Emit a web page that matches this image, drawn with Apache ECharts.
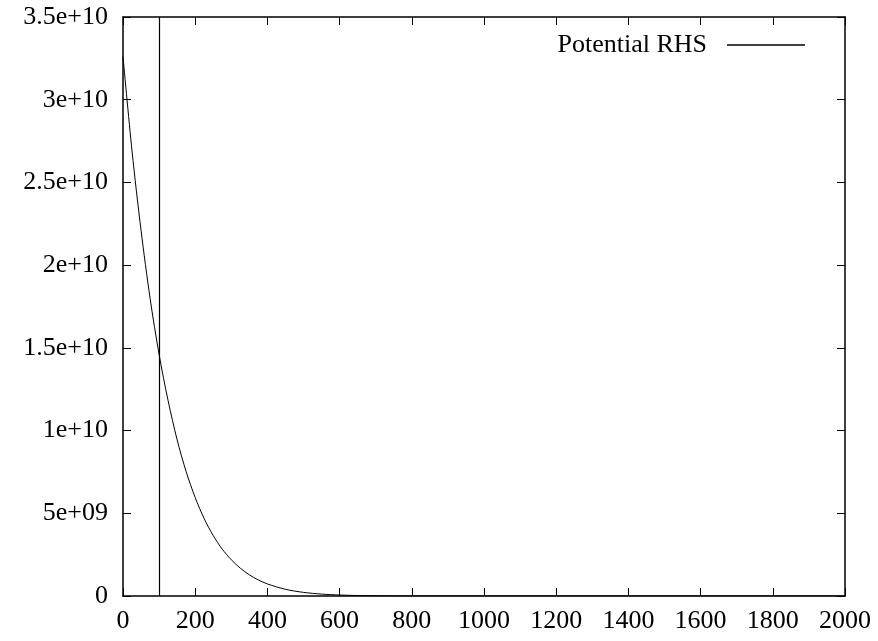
<!DOCTYPE html>
<html>
<head>
<meta charset="utf-8">
<script src="https://cdn.jsdelivr.net/npm/echarts@6/dist/echarts.min.js"></script>
<style>html,body{margin:0;padding:0;background:#fff;}#c{width:878px;height:641px;}</style>
</head>
<body>
<div id="c"></div>
<script>
// Data (y in units of 1e10)
const xValues = [0, 25, 50, 75, 100, 125, 150, 175, 200, 225, 250, 275, 300, 325, 350, 375, 400, 450, 500, 550, 600, 650, 700, 800, 900, 1000, 1200, 1400, 1600, 1800, 2000];
const yValuesE10 = [3.26, 2.69, 2.21, 1.80, 1.46, 1.18, 0.944, 0.751, 0.595, 0.467, 0.365, 0.283, 0.219, 0.168, 0.128, 0.097, 0.073, 0.0405, 0.0219, 0.0116, 0.006, 0.003, 0.0015, 0.0003, 0.0001, 0, 0, 0, 0, 0, 0];
const vlineX = [100];
const yTickLabels = ['0', '5e+09', '1e+10', '1.5e+10', '2e+10', '2.5e+10', '3e+10', '3.5e+10'];
const xTickLabels = ['0', '200', '400', '600', '800', '1000', '1200', '1400', '1600', '1800', '2000'];
const seriesName = 'Potential RHS';

const yStep = 5e9, xStep = 200;
const pts = xValues.map((x, i) => [x, yValuesE10[i] * 1e10]);
const font = 'Liberation Serif';
const fs = 26;

const chart = echarts.init(document.getElementById('c'), null, {renderer: 'canvas'});
const axisLine = {show: true, onZero: false, lineStyle: {color: '#000', width: 1.5}};
const tick = {show: true, inside: true, length: 8, lineStyle: {color: '#000', width: 1}};
chart.setOption({
  animation: false,
  backgroundColor: '#fff',
  grid: {left: 123, right: 33, top: 17, bottom: 45},
  legend: {
    data: [{name: seriesName, icon: 'rect'}],
    align: 'right',
    right: 68,
    top: 27,
    itemWidth: 78,
    itemHeight: 1.5,
    textStyle: {fontFamily: font, fontSize: fs, color: '#000', padding: [0, 15, 0, 0]},
    itemStyle: {color: '#000'}
  },
  xAxis: [
    {type: 'value', min: 0, max: 2000, interval: xStep, position: 'bottom',
     axisLine, axisTick: tick, splitLine: {show: false},
     axisLabel: {margin: 12, fontFamily: font, fontSize: fs, color: '#000',
       formatter: v => xTickLabels[Math.round(v / xStep)]}},
    {type: 'value', min: 0, max: 2000, interval: xStep, position: 'top',
     axisLine, axisTick: tick, splitLine: {show: false}, axisLabel: {show: false}}
  ],
  yAxis: [
    {type: 'value', min: 0, max: 3.5e10, interval: yStep, position: 'left',
     axisLine, axisTick: tick, splitLine: {show: false},
     axisLabel: {margin: 15, fontFamily: font, fontSize: fs, color: '#000',
       formatter: v => yTickLabels[Math.round(v / yStep)]}},
    {type: 'value', min: 0, max: 3.5e10, interval: yStep, position: 'right',
     axisLine, axisTick: tick, splitLine: {show: false}, axisLabel: {show: false}}
  ],
  series: [{
    name: seriesName,
    type: 'line',
    data: pts,
    smooth: 0.3,
    symbol: 'none',
    lineStyle: {color: '#000', width: 1},
    itemStyle: {color: '#000'},
    markLine: {
      silent: true,
      symbol: ['none', 'none'],
      label: {show: false},
      lineStyle: {color: '#000', width: 1.2, type: 'solid'},
      data: vlineX.map(x => ({xAxis: x}))
    }
  }]
});
</script>
</body>
</html>
